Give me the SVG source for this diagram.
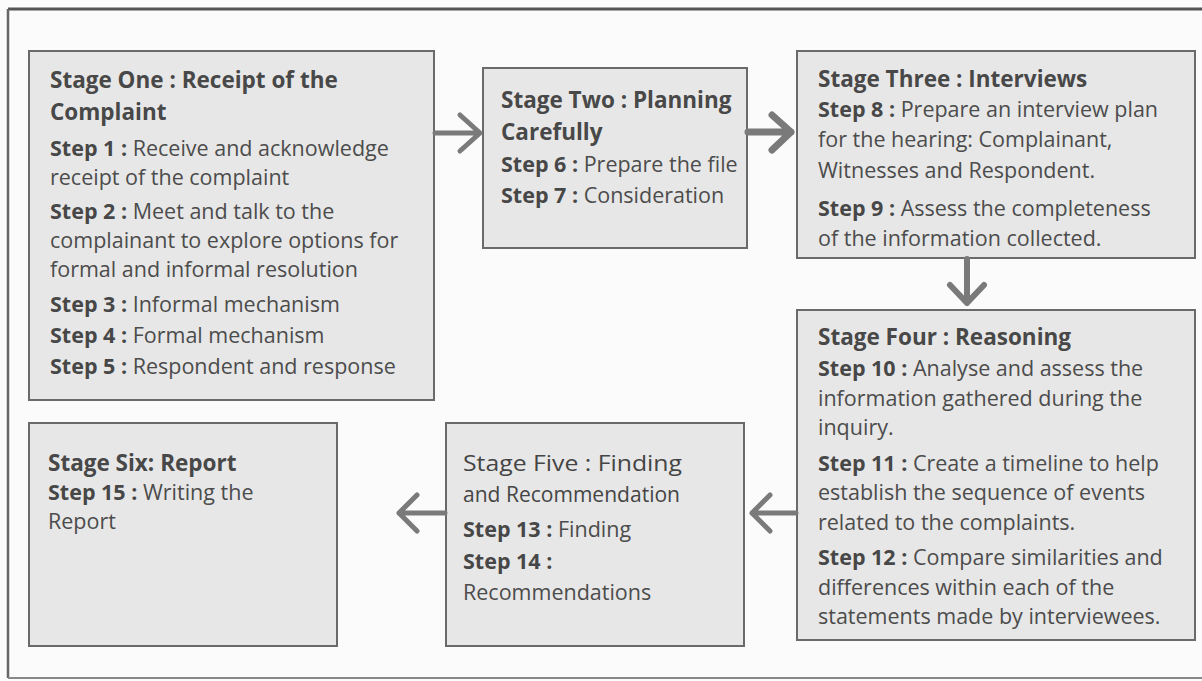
<svg xmlns="http://www.w3.org/2000/svg" width="1202" height="681" viewBox="0 0 1202 681">
<style>
.box{fill:#e7e7e7;stroke:#6a6a6a;stroke-width:2}
.t{font-family:"Open Sans","Liberation Sans",sans-serif;font-size:22.5px;font-weight:bold;fill:#484848}
.tm{font-family:"Open Sans","Liberation Sans",sans-serif;font-size:22.5px;font-weight:normal;fill:#454545}
.b{font-family:"Open Sans","Liberation Sans",sans-serif;font-size:21.5px;fill:#4c4c4c}
.s{font-weight:bold;fill:#474747}
.arr{fill:none;stroke:#7a7a7a;stroke-linecap:round;stroke-linejoin:round}
</style>
<rect x="0" y="0" width="1202" height="681" fill="#fbfbfb"/>
<g id="frame">
<line x1="8" y1="9" x2="1202" y2="9" stroke="#555" stroke-width="3"/>
<line x1="8" y1="9" x2="8" y2="678" stroke="#666" stroke-width="2.5"/>
<line x1="8" y1="678" x2="1202" y2="678" stroke="#888" stroke-width="2"/>
</g>
<g id="stage1">
<rect class="box" x="29" y="51" width="405" height="349"/>
<text class="t" x="50" y="88">Stage One : Receipt of the</text>
<text class="t" x="50" y="120">Complaint</text>
<text class="b" x="50" y="156"><tspan class="s">Step 1 :</tspan> Receive and acknowledge</text>
<text class="b" x="50" y="185">receipt of the complaint</text>
<text class="b" x="50" y="219"><tspan class="s">Step 2 :</tspan> Meet and talk to the</text>
<text class="b" x="50" y="248">complainant to explore options for</text>
<text class="b" x="50" y="277">formal and informal resolution</text>
<text class="b" x="50" y="312"><tspan class="s">Step 3 :</tspan> Informal mechanism</text>
<text class="b" x="50" y="343"><tspan class="s">Step 4 :</tspan> Formal mechanism</text>
<text class="b" x="50" y="374"><tspan class="s">Step 5 :</tspan> Respondent and response</text>
</g>
<g id="stage2">
<rect class="box" x="483" y="68" width="264" height="180"/>
<text class="t" x="501" y="108">Stage Two : Planning</text>
<text class="t" x="501" y="140">Carefully</text>
<text class="b" x="501" y="172"><tspan class="s">Step 6 :</tspan> Prepare the file</text>
<text class="b" x="501" y="203"><tspan class="s">Step 7 :</tspan> Consideration</text>
</g>
<g id="stage3">
<rect class="box" x="797" y="51" width="398" height="207"/>
<text class="t" x="818" y="87">Stage Three : Interviews</text>
<text class="b" x="818" y="117"><tspan class="s">Step 8 :</tspan> Prepare an interview plan</text>
<text class="b" x="818" y="147">for the hearing: Complainant,</text>
<text class="b" x="818" y="178">Witnesses and Respondent.</text>
<text class="b" x="818" y="216"><tspan class="s">Step 9 :</tspan> Assess the completeness</text>
<text class="b" x="818" y="246">of the information collected.</text>
</g>
<g id="stage4">
<rect class="box" x="797" y="310" width="398" height="330"/>
<text class="t" x="818" y="345">Stage Four : Reasoning</text>
<text class="b" x="818" y="376"><tspan class="s">Step 10 :</tspan> Analyse and assess the</text>
<text class="b" x="818" y="405.5">information gathered during the</text>
<text class="b" x="818" y="435">inquiry.</text>
<text class="b" x="818" y="470.5"><tspan class="s">Step 11 :</tspan> Create a timeline to help</text>
<text class="b" x="818" y="500">establish the sequence of events</text>
<text class="b" x="818" y="529.5">related to the complaints.</text>
<text class="b" x="818" y="565"><tspan class="s">Step 12 :</tspan> Compare similarities and</text>
<text class="b" x="818" y="594.5">differences within each of the</text>
<text class="b" x="818" y="624">statements made by interviewees.</text>
</g>
<g id="stage5">
<rect class="box" x="446" y="423" width="298" height="223"/>
<text class="tm" x="463" y="471" textLength="219" lengthAdjust="spacingAndGlyphs">Stage Five : Finding</text>
<text class="tm" x="463" y="502" textLength="217" lengthAdjust="spacingAndGlyphs">and Recommendation</text>
<text class="b" x="463" y="537"><tspan class="s">Step 13 :</tspan> Finding</text>
<text class="b" x="463" y="569"><tspan class="s">Step 14 :</tspan></text>
<text class="b" x="463" y="600">Recommendations</text>
</g>
<g id="stage6">
<rect class="box" x="29" y="423" width="308" height="223"/>
<text class="t" x="48" y="471">Stage Six: Report</text>
<text class="b" x="48" y="500"><tspan class="s">Step 15 :</tspan> Writing the</text>
<text class="b" x="48" y="529">Report</text>
</g>
<g id="connectors">
<path class="arr" stroke-width="5" stroke="#8a8a8a" d="M435 133 H479 M460 115 L480 133 L460 151"/>
<path class="arr" stroke-width="7" stroke="#6a6a6a" d="M748 132 H791 M772 115 L791 132 L772 150"/>
<path class="arr" stroke-width="6" stroke="#6e6e6e" d="M967 259 V303 M950 285 L967 303 L984 285"/>
<path class="arr" stroke-width="5" stroke="#8a8a8a" d="M796 513 H752 M770 495 L752 513 L770 531"/>
<path class="arr" stroke-width="5" stroke="#8a8a8a" d="M445 513 H399 M417 495 L399 513 L417 531"/>
</g>
</svg>
